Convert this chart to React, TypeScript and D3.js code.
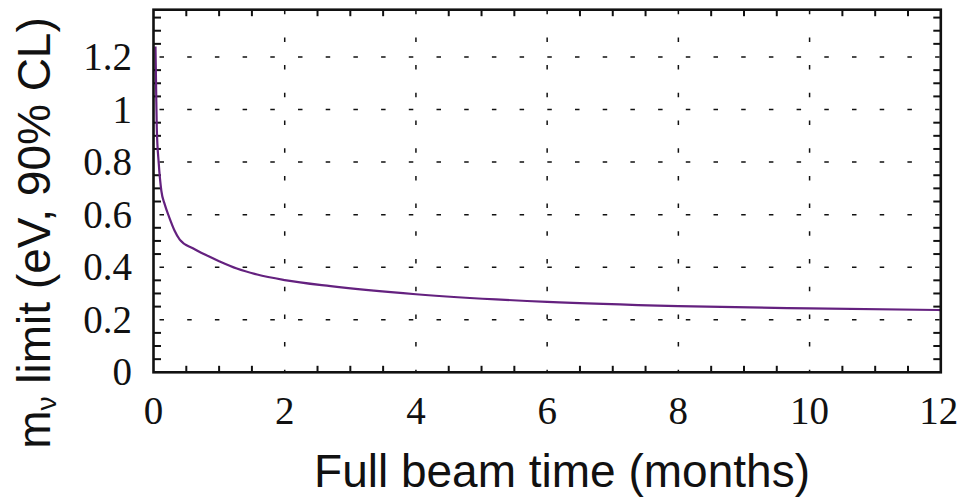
import React from 'react';
import * as d3 from 'd3';

// beam time in months, and the resulting neutrino mass limit (eV, 90% CL)
const timeMonths = [0.03, 0.04, 0.05, 0.08, 0.12, 0.17, 0.24, 0.32, 0.4, 0.6, 0.8, 1.0, 1.27, 1.58, 2.0, 2.7, 4.0, 6.0, 8.0, 10.0, 12.0];
const massLimit = [1.24, 1.08, 0.93, 0.795, 0.69, 0.64, 0.59, 0.54, 0.505, 0.472, 0.446, 0.423, 0.395, 0.372, 0.351, 0.328, 0.297, 0.268, 0.252, 0.243, 0.237];

const xTicks = [0, 2, 4, 6, 8, 10, 12];
const yTicks = [0, 0.2, 0.4, 0.6, 0.8, 1, 1.2];

const W = 959;
const H = 499;
const margin = { top: 9.7, right: 18.2, bottom: 126.7, left: 153.5 };

const App = () => {
    const x = d3.scaleLinear().domain([0, 12]).range([margin.left, W - margin.right]);
    const y = d3.scaleLinear().domain([0, 1.38]).range([H - margin.bottom, margin.top]);

    const pts = timeMonths.map((t, i) => [t, massLimit[i]] as [number, number]);
    const line = d3.line<[number, number]>()
        .x(d => x(d[0]))
        .y(d => y(d[1]))
        .curve(d3.curveMonotoneX);

    // minor ticks
    const xMinor = d3.range(0.5, 12, 0.5).filter(v => Math.abs(v % 2) > 1e-6);
    const yMinor = d3.range(0.05, 1.38, 0.05).filter(v => {
        const r = Math.round(v * 100) % 20;
        return r !== 0;
    });

    const x0 = x.range()[0], x1 = x.range()[1];
    const y0 = y.range()[0], y1 = y.range()[1];
    const tickLen = 6.5;
    const serif = '"Liberation Serif", "Times New Roman", serif';
    const sans = '"Liberation Sans", Arial, sans-serif';

    return (
        <svg width={W} height={H} style={{ position: 'absolute', left: 0, top: 0, background: '#fff' }}>
            {/* grid */}
            <g stroke="#111" strokeWidth={1.5} strokeDasharray="4.5,23.2">
                {yTicks.filter(v => v > 0).map(v => (
                    <line key={'gy' + v} x1={x0} x2={x1} y1={y(v)} y2={y(v)} strokeDashoffset={21.7} />
                ))}
                {xTicks.filter(v => v > 0 && v < 12).map(v => (
                    <line key={'gx' + v} x1={x(v)} x2={x(v)} y1={y1} y2={y0} />
                ))}
            </g>

            {/* minor ticks */}
            <g stroke="#111" strokeWidth={2}>
                {xMinor.map(v => (
                    <g key={'tx' + v}>
                        <line x1={x(v)} x2={x(v)} y1={y0} y2={y0 - tickLen} />
                        <line x1={x(v)} x2={x(v)} y1={y1} y2={y1 + tickLen} />
                    </g>
                ))}
                {yMinor.map(v => (
                    <g key={'ty' + v}>
                        <line x1={x0} x2={x0 + tickLen + 1} y1={y(v)} y2={y(v)} />
                        <line x1={x1} x2={x1 - tickLen - 1} y1={y(v)} y2={y(v)} />
                    </g>
                ))}
            </g>

            {/* curve */}
            <path d={line(pts) || ''} fill="none" stroke="#64217f" strokeWidth={2.2} />

            {/* frame */}
            <rect x={x0} y={y1} width={x1 - x0} height={y0 - y1} fill="none" stroke="#111" strokeWidth={2.6} />

            {/* tick labels */}
            <g fontFamily={serif} fontSize={39} fill="#111">
                {xTicks.map(v => (
                    <text key={'lx' + v} x={v === 12 ? x(v) - 2 : x(v)} y={424} textAnchor="middle">{v}</text>
                ))}
                {yTicks.map(v => (
                    <text key={'ly' + v} x={132} y={y(v) + 13} textAnchor="end">{v}</text>
                ))}
            </g>

            {/* axis titles */}
            <text x={562} y={487} textAnchor="middle" fontFamily={sans} fontSize={46} fill="#111">
                Full beam time (months)
            </text>
            <text transform="translate(50,233) rotate(-90)" textAnchor="middle" fontFamily={sans} fontSize={46} fill="#111">
                m<tspan fontSize={28} dy={6}>ν</tspan><tspan dy={-6}> limit (eV, 90% CL)</tspan>
            </text>
        </svg>
    );
};

export default App;
